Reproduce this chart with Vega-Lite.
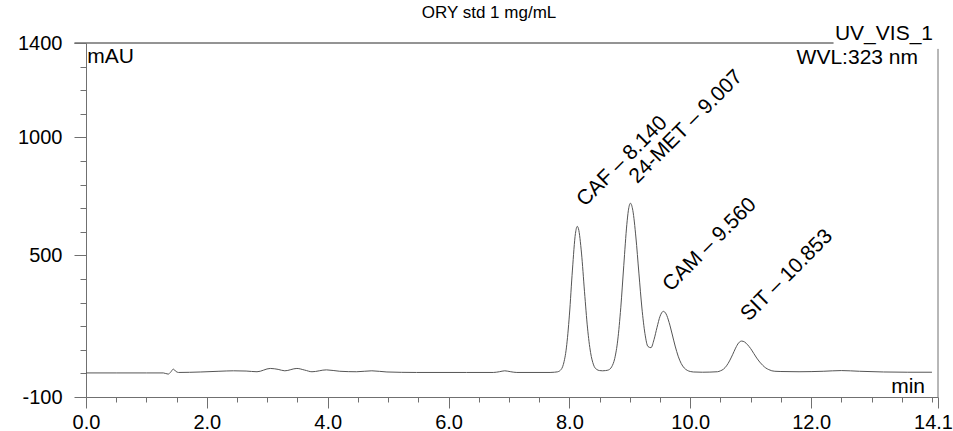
{
  "$schema": "https://vega.github.io/schema/vega-lite/v6.json",
  "width": 852,
  "height": 354,
  "autosize": {"type": "none"},
  "padding": {"left": 86, "top": 43, "right": 15, "bottom": 34},
  "background": "white",
  "config": {"view": {"stroke": null}, "font": "Liberation Sans"},
  "title": {"text": "ORY std 1 mg/mL", "fontSize": 17, "font": "Liberation Sans", "fontWeight": "normal", "color": "black", "anchor": "middle", "frame": "group", "dx": -23, "offset": 1},
  "datasets": {
    "trace": [
      {"t": 0, "v": 2}, {"t": 0.5, "v": 2}, {"t": 1.0, "v": 2}, {"t": 1.28, "v": 2}, {"t": 1.36, "v": -3}, {"t": 1.40, "v": 5}, {"t": 1.445, "v": 18}, {"t": 1.49, "v": 8}, {"t": 1.53, "v": 4},
      {"t": 1.9, "v": 6}, {"t": 2.2, "v": 9}, {"t": 2.44, "v": 11}, {"t": 2.65, "v": 10}, {"t": 2.83, "v": 7}, {"t": 3.05, "v": 21}, {"t": 3.18, "v": 17}, {"t": 3.29, "v": 11}, {"t": 3.49, "v": 21}, {"t": 3.62, "v": 14}, {"t": 3.74, "v": 7}, {"t": 3.98, "v": 15}, {"t": 4.2, "v": 9}, {"t": 4.48, "v": 7}, {"t": 4.73, "v": 11}, {"t": 4.98, "v": 6}, {"t": 5.47, "v": 4}, {"t": 6.3, "v": 4}, {"t": 6.74, "v": 4}, {"t": 6.84, "v": 7}, {"t": 6.93, "v": 11}, {"t": 7.03, "v": 7}, {"t": 7.13, "v": 4}, {"t": 7.68, "v": 4},
      {"t": 7.75, "v": 5}, {"t": 7.80, "v": 6.5}, {"t": 7.85, "v": 13}, {"t": 7.90, "v": 38}, {"t": 7.95, "v": 108}, {"t": 8.00, "v": 247}, {"t": 8.05, "v": 438}, {"t": 8.10, "v": 593}, {"t": 8.13, "v": 623}, {"t": 8.15, "v": 613}, {"t": 8.20, "v": 510}, {"t": 8.25, "v": 346}, {"t": 8.30, "v": 192}, {"t": 8.35, "v": 89}, {"t": 8.40, "v": 36}, {"t": 8.45, "v": 17}, {"t": 8.50, "v": 12}, {"t": 8.55, "v": 11}, {"t": 8.60, "v": 12}, {"t": 8.65, "v": 15},
      {"t": 8.70, "v": 28}, {"t": 8.75, "v": 63}, {"t": 8.80, "v": 141}, {"t": 8.85, "v": 278}, {"t": 8.90, "v": 458}, {"t": 8.95, "v": 630}, {"t": 8.975, "v": 689}, {"t": 9.01, "v": 721}, {"t": 9.05, "v": 690}, {"t": 9.10, "v": 578}, {"t": 9.15, "v": 425}, {"t": 9.20, "v": 277}, {"t": 9.25, "v": 169}, {"t": 9.30, "v": 114}, {"t": 9.35, "v": 109}, {"t": 9.40, "v": 143}, {"t": 9.45, "v": 195}, {"t": 9.50, "v": 242}, {"t": 9.555, "v": 263}, {"t": 9.60, "v": 252}, {"t": 9.65, "v": 216}, {"t": 9.70, "v": 167}, {"t": 9.75, "v": 116}, {"t": 9.80, "v": 73}, {"t": 9.85, "v": 42}, {"t": 9.90, "v": 23}, {"t": 9.95, "v": 13}, {"t": 10.00, "v": 8}, {"t": 10.05, "v": 6}, {"t": 10.2, "v": 5},
      {"t": 10.45, "v": 7}, {"t": 10.50, "v": 11}, {"t": 10.55, "v": 18}, {"t": 10.60, "v": 32}, {"t": 10.65, "v": 53}, {"t": 10.70, "v": 79}, {"t": 10.75, "v": 107}, {"t": 10.80, "v": 129}, {"t": 10.85, "v": 137}, {"t": 10.90, "v": 133}, {"t": 10.95, "v": 121}, {"t": 11.00, "v": 105}, {"t": 11.05, "v": 85}, {"t": 11.10, "v": 65}, {"t": 11.15, "v": 48}, {"t": 11.20, "v": 34}, {"t": 11.25, "v": 23}, {"t": 11.30, "v": 16}, {"t": 11.35, "v": 11}, {"t": 11.40, "v": 9}, {"t": 11.50, "v": 8},
      {"t": 11.8, "v": 7}, {"t": 12.2, "v": 9}, {"t": 12.5, "v": 12}, {"t": 12.8, "v": 9}, {"t": 13.2, "v": 6}, {"t": 13.6, "v": 5}, {"t": 14.0, "v": 5}
    ],
    "peaks": [
      {"label": "CAF – 8.140", "rt": 8.140, "height": 623},
      {"label": "24-MET – 9.007", "rt": 9.007, "height": 721},
      {"label": "CAM – 9.560", "rt": 9.560, "height": 263},
      {"label": "SIT – 10.853", "rt": 10.853, "height": 137}
    ],
    "one": [{}]
  },
  "layer": [
    {
      "data": {"name": "trace"},
      "mark": {"type": "line", "color": "#555555", "strokeWidth": 1, "interpolate": "monotone", "clip": false},
      "encoding": {
        "x": {"field": "t", "type": "quantitative", "scale": {"domain": [0, 14.1], "nice": false, "zero": false},
          "axis": {"orient": "bottom", "values": [0, 2, 4, 6, 8, 10, 12, 14.1], "format": ".1f", "title": null, "grid": false, "tickSize": 11, "labelPadding": 4, "labelOffset": {"condition": {"test": "datum.value > 14", "value": -5}, "value": 0}, "labelFontSize": 20, "labelFont": "Liberation Sans", "labelColor": "black", "domainColor": "#707070", "tickColor": "#707070", "labelFlush": false, "labelOverlap": false}},
        "y": {"field": "v", "type": "quantitative", "scale": {"domain": [-100, 1400], "nice": false, "zero": false},
          "axis": {"orient": "left", "values": [-100, 500, 1000, 1400], "labelExpr": "'' + datum.value", "title": null, "grid": false, "tickSize": 12, "labelPadding": 12, "labelFontSize": 20, "labelFont": "Liberation Sans", "labelColor": "black", "domainColor": "#707070", "tickColor": "#707070", "labelFlush": false, "labelOverlap": false, "labelBaseline": "middle"}}
      }
    },
    {
      "data": {"name": "one"},
      "mark": {"type": "rule", "color": "#707070", "strokeWidth": 1},
      "encoding": {
        "x": {"datum": 14.1, "type": "quantitative",
          "axis": {"orient": "bottom", "values": [0.5, 1, 1.5, 2.5, 3, 3.5, 4.5, 5, 5.5, 6.5, 7, 7.5, 8.5, 9, 9.5, 10.5, 11, 11.5, 12.5, 13, 13.5, 14], "labels": false, "domain": false, "grid": false, "title": null, "tickSize": 5, "tickColor": "#707070"}},
        "y": {"datum": 1375, "type": "quantitative",
          "axis": {"orient": "left", "values": [-100, 0, 100, 200, 300, 400, 600, 700, 800, 900, 1100, 1200, 1300], "labels": false, "domain": false, "grid": false, "title": null, "tickSize": 6, "tickColor": "#707070"}},
        "y2": {"datum": -100}
      }
    },
    {
      "data": {"name": "one"},
      "mark": {"type": "rect", "fill": null, "stroke": "#707070", "strokeWidth": 1, "clip": false},
      "encoding": {
        "x": {"datum": -0.19, "type": "quantitative", "axis": null},
        "x2": {"datum": 12.37},
        "y": {"datum": 1400, "type": "quantitative", "axis": null},
        "y2": {"datum": 1400}
      }
    },
    {
      "data": {"name": "peaks"},
      "mark": {"type": "text", "angle": -45, "align": "left", "baseline": "alphabetic", "dx": 18.4, "dy": -8.5, "fontSize": 21, "font": "Liberation Sans", "color": "black"},
      "encoding": {
        "x": {"field": "rt", "type": "quantitative", "axis": null},
        "y": {"field": "height", "type": "quantitative", "axis": null},
        "text": {"field": "label"}
      }
    },
    {
      "data": {"name": "one"},
      "mark": {"type": "text", "text": "mAU", "align": "left", "baseline": "alphabetic", "dx": 0, "dy": 20, "fontSize": 21, "font": "Liberation Sans", "color": "black"},
      "encoding": {"x": {"datum": 0.02, "type": "quantitative", "axis": null}, "y": {"datum": 1400, "type": "quantitative", "axis": null}}
    },
    {
      "data": {"name": "one"},
      "mark": {"type": "text", "text": "UV_VIS_1", "align": "right", "baseline": "alphabetic", "dx": -5, "dy": -3, "fontSize": 21, "font": "Liberation Sans", "color": "black"},
      "encoding": {"x": {"datum": 14.1, "type": "quantitative", "axis": null}, "y": {"datum": 1400, "type": "quantitative", "axis": null}}
    },
    {
      "data": {"name": "one"},
      "mark": {"type": "text", "text": "WVL:323 nm", "align": "right", "baseline": "alphabetic", "dx": -20, "dy": 21, "fontSize": 21, "font": "Liberation Sans", "color": "black"},
      "encoding": {"x": {"datum": 14.1, "type": "quantitative", "axis": null}, "y": {"datum": 1400, "type": "quantitative", "axis": null}}
    },
    {
      "data": {"name": "one"},
      "mark": {"type": "text", "text": "min", "align": "right", "baseline": "alphabetic", "dx": -13, "dy": -4, "fontSize": 21, "font": "Liberation Sans", "color": "black"},
      "encoding": {"x": {"datum": 14.1, "type": "quantitative", "axis": null}, "y": {"datum": -100, "type": "quantitative", "axis": null}}
    }
  ],
  "resolve": {"axis": {"x": "independent", "y": "independent"}}
}
